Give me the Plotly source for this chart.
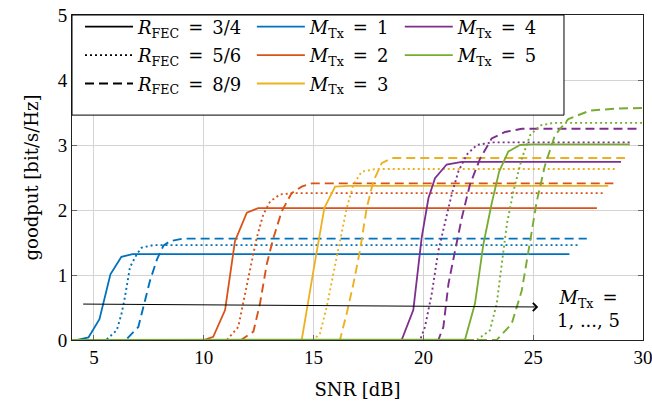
import plotly.graph_objects as go

# ---------------- data ----------------
# M_Tx = 1
snr_m1_r34 = [4, 4.25, 4.75, 5.25, 5.75, 6.25, 6.75, 26.65]
gp_m1_r34 = [0, 0, 0.04, 0.32, 1.01, 1.28, 1.32, 1.32]
snr_m1_r56 = [4, 5.55, 6.04, 6.26, 6.41, 6.64, 6.95, 7.17, 7.7, 27.03]
gp_m1_r56 = [0, 0, 0.15, 0.41, 0.66, 1.12, 1.32, 1.42, 1.46, 1.46]
snr_m1_r89 = [4, 6.45, 7.02, 7.25, 7.55, 7.88, 8.16, 8.46, 9.07, 27.44]
gp_m1_r89 = [0, 0, 0.2, 0.51, 0.91, 1.25, 1.45, 1.52, 1.56, 1.56]
# M_Tx = 2
snr_m2_r34 = [4, 10.0, 10.43, 10.97, 11.42, 11.96, 12.48, 27.9]
gp_m2_r34 = [0, 0, 0.05, 0.46, 1.52, 1.96, 2.03, 2.03]
snr_m2_r56 = [4, 11.05, 11.57, 11.8, 12.1, 12.41, 12.71, 13.02, 13.47, 14.15, 28.29]
gp_m2_r56 = [0, 0, 0.2, 0.56, 1.07, 1.57, 1.93, 2.13, 2.24, 2.26, 2.26]
snr_m2_r89 = [4, 11.7, 12.26, 12.56, 12.87, 13.17, 13.55, 14.0, 14.46, 14.92, 28.65]
gp_m2_r89 = [0, 0, 0.13, 0.56, 1.17, 1.57, 1.98, 2.26, 2.36, 2.41, 2.41]
# M_Tx = 3
snr_m3_r34 = [4, 14.46, 14.96, 15.49, 15.98, 16.58, 28.42]
gp_m3_r34 = [0, 0, 1.0, 2.03, 2.36, 2.37, 2.37]
snr_m3_r56 = [4, 14.99, 15.29, 15.6, 15.9, 16.2, 16.51, 16.81, 17.19, 17.8, 28.8]
gp_m3_r56 = [0, 0, 0.1, 0.51, 1.02, 1.52, 2.03, 2.39, 2.59, 2.63, 2.63]
snr_m3_r89 = [4, 16.2, 16.51, 16.81, 17.11, 17.42, 17.72, 18.1, 18.56, 29.18]
gp_m3_r89 = [0, 0, 0.41, 0.86, 1.37, 2.03, 2.44, 2.72, 2.80, 2.80]
# M_Tx = 4
snr_m4_r34 = [4, 19.01, 19.54, 19.92, 20.23, 20.53, 21.06, 21.75, 29.0]
gp_m4_r34 = [0, 0, 0.46, 1.57, 2.18, 2.49, 2.70, 2.74, 2.74]
snr_m4_r56 = [4, 19.85, 20.07, 20.38, 20.68, 20.99, 21.29, 21.59, 21.97, 22.43, 23.11, 29.4]
gp_m4_r56 = [0, 0, 0.2, 0.71, 1.37, 1.83, 2.24, 2.59, 2.85, 3.0, 3.04, 3.04]
snr_m4_r89 = [4, 20.68, 20.91, 21.14, 21.44, 21.75, 22.12, 22.58, 23.11, 23.72, 24.48, 29.8]
gp_m4_r89 = [0, 0, 0.2, 0.86, 1.37, 1.88, 2.39, 2.79, 3.1, 3.2, 3.25, 3.25]
# M_Tx = 5
snr_m5_r34 = [4, 21.9, 22.35, 22.73, 23.11, 23.45, 23.87, 24.4, 24.93, 29.4]
gp_m5_r34 = [0, 0.01, 0.56, 1.47, 2.1, 2.59, 2.9, 3.0, 3.01, 3.01]
snr_m5_r56 = [4, 22.43, 23.03, 23.34, 23.57, 23.8, 24.1, 24.48, 24.86, 25.31, 25.92, 30]
gp_m5_r56 = [0, 0, 0.15, 0.56, 1.17, 1.78, 2.29, 2.79, 3.15, 3.3, 3.34, 3.34]
snr_m5_r89 = [4, 23.34, 24.02, 24.48, 24.86, 25.16, 25.54, 25.99, 26.6, 27.59, 28.8, 30]
gp_m5_r89 = [0, 0, 0.25, 0.76, 1.52, 2.13, 2.69, 3.15, 3.4, 3.53, 3.56, 3.57]

m_labels = ["1", "2", "3", "4", "5"]
r_labels = ["3/4", "5/6", "8/9"]
colors = ["#0072BD", "#D95319", "#EDB120", "#7E2F8E", "#77AC30"]
x_ticks = [5, 10, 15, 20, 25, 30]
y_ticks = [0, 1, 2, 3, 4, 5]

series = [
    [(snr_m1_r34, gp_m1_r34), (snr_m1_r56, gp_m1_r56), (snr_m1_r89, gp_m1_r89)],
    [(snr_m2_r34, gp_m2_r34), (snr_m2_r56, gp_m2_r56), (snr_m2_r89, gp_m2_r89)],
    [(snr_m3_r34, gp_m3_r34), (snr_m3_r56, gp_m3_r56), (snr_m3_r89, gp_m3_r89)],
    [(snr_m4_r34, gp_m4_r34), (snr_m4_r56, gp_m4_r56), (snr_m4_r89, gp_m4_r89)],
    [(snr_m5_r34, gp_m5_r34), (snr_m5_r56, gp_m5_r56), (snr_m5_r89, gp_m5_r89)],
]

FONT = "DejaVu Serif"
TICKFONT = "Liberation Serif"
FS = 18
dash_styles = ["solid", "2px,3px", "9px,5px"]
widths = [1.8, 1.9, 1.9]
EQ = "\u2002=\u2002"

fig = go.Figure()

for mi, curves in enumerate(series):
    for ri, (xs, ys) in enumerate(curves):
        fig.add_trace(go.Scatter(
            x=xs, y=ys, mode="lines", showlegend=False, hoverinfo="skip",
            line=dict(color=colors[mi], width=widths[ri], dash=dash_styles[ri]),
        ))

# legend column 1: code rates (black line styles)
for ri, r in enumerate(r_labels):
    fig.add_trace(go.Scatter(
        x=[None], y=[None], mode="lines",
        name="<i>R</i><sub>FEC</sub>" + EQ + r,
        line=dict(color="black", width=widths[ri], dash=dash_styles[ri]),
        legend="legend", legendgroup="r" + str(ri),
    ))
# legend columns 2 and 3: number of transmitters
for mi, m in enumerate(m_labels):
    fig.add_trace(go.Scatter(
        x=[None], y=[None], mode="lines",
        name="<i>M</i><sub>Tx</sub>" + EQ + m,
        line=dict(color=colors[mi], width=1.8),
        legend="legend2" if mi < 3 else "legend3", legendgroup="m" + str(mi),
    ))

leg_common = dict(
    bgcolor="rgba(0,0,0,0)", borderwidth=0, xanchor="left", yanchor="top",
    font=dict(family=FONT, size=FS, color="black"), itemwidth=48,
    tracegroupgap=2, orientation="v",
)
fig.update_layout(
    legend=dict(x=0.014, y=1.02, **leg_common),
    legend2=dict(x=0.315, y=1.02, **leg_common),
    legend3=dict(x=0.574, y=1.02, **leg_common),
)

# legend box
fig.add_shape(type="rect", xref="paper", yref="paper", x0=0, x1=0.8616, y0=0.692, y1=1.0,
              line=dict(color="black", width=1), fillcolor="white", layer="above")

# arrow and its label
fig.add_annotation(x=25.23, y=0.508, ax=4.44, ay=0.553, xref="x", yref="y", axref="x", ayref="y",
                   text="", showarrow=True, arrowhead=4, arrowsize=1.6, arrowwidth=1,
                   arrowcolor="black", standoff=0)
fig.add_annotation(x=27.5, y=0.47, xref="x", yref="y", showarrow=False,
                   text="<i>M</i><sub>Tx</sub>\u2002=<br>1, ..., 5",
                   font=dict(family=FONT, size=FS, color="black"), align="center")

axis_common = dict(
    showline=True, linecolor="#222222", linewidth=1, mirror="ticks",
    ticks="inside", ticklen=5, tickcolor="#666666", tickwidth=1,
    showgrid=True, gridcolor="#d4d4d4", gridwidth=1, zeroline=False,
    tickfont=dict(family=TICKFONT, size=19, color="black"), ticklabeloverflow="allow",
    automargin=False,
)
fig.update_xaxes(range=[4, 30.0001], tickvals=x_ticks, ticktext=[str(v) for v in x_ticks],
                 title=dict(text="SNR [dB]", font=dict(family=FONT, size=FS, color="black"), standoff=16),
                 **axis_common)
fig.update_yaxes(range=[0, 5.0001], tickvals=y_ticks, ticktext=[str(v) for v in y_ticks],
                 title=dict(text="goodput [bit/s/Hz]", font=dict(family=FONT, size=FS, color="black"), standoff=14),
                 **axis_common)

fig.update_layout(
    width=652, height=410, margin=dict(l=72, r=9, t=12, b=70),
    paper_bgcolor="white", plot_bgcolor="white",
    font=dict(family=FONT, size=FS, color="black"),
)

fig.write_html("out.html")
